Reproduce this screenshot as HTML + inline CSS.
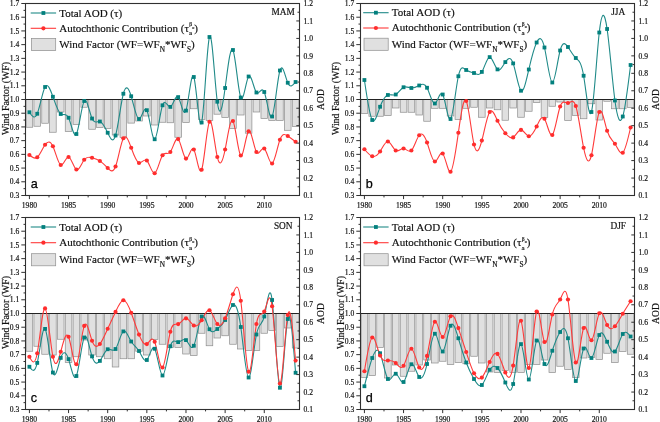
<!DOCTYPE html><html><head><meta charset="utf-8"><style>
html,body{margin:0;padding:0;background:#fff;}body{width:660px;height:422px;overflow:hidden;}
svg{display:block;will-change:transform;} .s{font-family:"Liberation Serif",serif;fill:#111111;stroke:#111111;stroke-width:0.18px;} .ss{font-family:"Liberation Sans",sans-serif;fill:#000;stroke:#000;stroke-width:0.25px;}
</style></head><body>
<svg width="660" height="422" viewBox="0 0 660 422">
<g fill="#e0e0e0" stroke="#8e8e8e" stroke-width="0.7"><rect x="26.11" y="99.5" width="6.6" height="27.75"/><rect x="33.94" y="99.5" width="6.6" height="26.75"/><rect x="41.77" y="99.5" width="6.6" height="23.75"/><rect x="49.6" y="99.5" width="6.6" height="32.75"/><rect x="57.43" y="99.5" width="6.6" height="12.5"/><rect x="65.26" y="99.5" width="6.6" height="32"/><rect x="73.09" y="99.5" width="6.6" height="25"/><rect x="80.91" y="99.5" width="6.6" height="7.75"/><rect x="88.74" y="99.5" width="6.6" height="29.75"/><rect x="96.57" y="99.5" width="6.6" height="28"/><rect x="104.4" y="99.5" width="6.6" height="28.9"/><rect x="112.23" y="99.5" width="6.6" height="35.5"/><rect x="120.06" y="99.5" width="6.6" height="38"/><rect x="127.89" y="99.5" width="6.6" height="23.6"/><rect x="135.71" y="99.5" width="6.6" height="21.5"/><rect x="143.54" y="99.5" width="6.6" height="16.5"/><rect x="151.37" y="99.5" width="6.6" height="25.5"/><rect x="159.2" y="99.5" width="6.6" height="22.75"/><rect x="167.03" y="99.5" width="6.6" height="23.25"/><rect x="174.86" y="99.5" width="6.6" height="37.75"/><rect x="182.69" y="99.5" width="6.6" height="23"/><rect x="190.51" y="99.5" width="6.6" height="9.25"/><rect x="198.34" y="99.5" width="6.6" height="20"/><rect x="206.17" y="99.5" width="6.6" height="21.1"/><rect x="214" y="99.5" width="6.6" height="14.7"/><rect x="221.83" y="99.5" width="6.6" height="18"/><rect x="229.66" y="99.5" width="6.6" height="29.1"/><rect x="237.49" y="99.5" width="6.6" height="15.5"/><rect x="245.31" y="99.5" width="6.6" height="33.7"/><rect x="253.14" y="99.5" width="6.6" height="12.5"/><rect x="260.97" y="99.5" width="6.6" height="19"/><rect x="268.8" y="99.5" width="6.6" height="21"/><rect x="276.63" y="99.5" width="6.6" height="21"/><rect x="284.46" y="99.5" width="6.6" height="30.8"/><rect x="292.29" y="99.5" width="6.6" height="27.1"/></g>
<line x1="25.5" y1="99.5" x2="299.5" y2="99.5" stroke="#222" stroke-width="1"/>
<path d="M29.41,112.25 C32.02,116.06 34.63,119.87 37.24,113.75 C39.85,107.63 42.46,91.57 45.07,87 C47.68,82.43 50.29,89.36 52.9,96.75 C55.51,104.14 58.12,112.01 60.73,114 C63.34,115.99 65.95,112.11 68.56,117.75 C71.17,123.39 73.78,138.54 76.39,134 C79,129.46 81.6,105.24 84.21,101 C86.82,96.76 89.43,112.49 92.04,118.5 C94.65,124.51 97.26,120.81 99.87,121.5 C102.48,122.19 105.09,127.26 107.7,132.75 C110.31,138.24 112.92,144.16 115.53,135.5 C118.14,126.84 120.75,103.59 123.36,93.75 C125.97,83.91 128.58,87.47 131.19,96.25 C133.8,105.03 136.4,119.01 139.01,119 C141.62,118.99 144.23,104.99 146.84,110.2 C149.45,115.41 152.06,139.85 154.67,139.25 C157.28,138.65 159.89,113.02 162.5,105.3 C165.11,97.58 167.72,107.78 170.33,106.9 C172.94,106.02 175.55,94.05 178.16,97.1 C180.77,100.15 183.38,118.23 185.99,110.6 C188.6,102.97 191.2,69.63 193.81,77 C196.42,84.37 199.03,132.45 201.64,122.5 C204.25,112.55 206.86,44.56 209.47,37 C212.08,29.44 214.69,82.31 217.3,101.75 C219.91,121.19 222.52,107.21 225.13,88 C227.74,68.79 230.35,44.35 232.96,50 C235.57,55.65 238.18,91.4 240.79,97.5 C243.4,103.6 246,80.07 248.61,76.5 C251.22,72.93 253.83,89.34 256.44,92.5 C259.05,95.66 261.66,85.59 264.27,92 C266.88,98.41 269.49,121.3 272.1,116.5 C274.71,111.7 277.32,79.21 279.93,70.5 C282.54,61.79 285.15,76.87 287.76,82.75 C290.37,88.63 292.98,85.32 295.59,82" fill="none" stroke="#1f8a88" stroke-width="1.1"/>
<path d="M29.41,155 C32.02,157.23 34.63,159.47 37.24,157.25 C39.85,155.03 42.46,148.37 45.07,144.75 C47.68,141.13 50.29,140.57 52.9,146.25 C55.51,151.93 58.12,163.85 60.73,165 C63.34,166.15 65.95,156.52 68.56,157 C71.17,157.48 73.78,168.06 76.39,169.5 C79,170.94 81.6,163.24 84.21,159.75 C86.82,156.26 89.43,156.99 92.04,157.75 C94.65,158.51 97.26,159.3 99.87,161 C102.48,162.7 105.09,165.32 107.7,168 C110.31,170.68 112.92,173.42 115.53,166.5 C118.14,159.58 120.75,143.01 123.36,138.25 C125.97,133.49 128.58,140.56 131.19,147.75 C133.8,154.94 136.4,162.26 139.01,163 C141.62,163.74 144.23,157.89 146.84,160.5 C149.45,163.11 152.06,174.17 154.67,173.25 C157.28,172.33 159.89,159.44 162.5,155.25 C165.11,151.06 167.72,155.57 170.33,152 C172.94,148.43 175.55,136.8 178.16,139.1 C180.77,141.4 183.38,157.65 185.99,158.6 C188.6,159.55 191.2,145.21 193.81,149.5 C196.42,153.79 199.03,176.7 201.64,169.75 C204.25,162.8 206.86,126 209.47,121.75 C212.08,117.5 214.69,145.79 217.3,157 C219.91,168.21 222.52,162.35 225.13,149.5 C227.74,136.65 230.35,116.83 232.96,121 C235.57,125.17 238.18,153.35 240.79,155.5 C243.4,157.65 246,133.77 248.61,131.25 C251.22,128.73 253.83,147.55 256.44,152 C259.05,156.45 261.66,146.51 264.27,148.5 C266.88,150.49 269.49,164.41 272.1,163.5 C274.71,162.59 277.32,146.84 279.93,139.75 C282.54,132.66 285.15,134.22 287.76,136 C290.37,137.78 292.98,139.76 295.59,141.75" fill="none" stroke="#ff3a3a" stroke-width="1.1"/>
<g fill="#03807e"><rect x="27.51" y="110.35" width="3.8" height="3.8"/><rect x="35.34" y="111.85" width="3.8" height="3.8"/><rect x="43.17" y="85.1" width="3.8" height="3.8"/><rect x="51" y="94.85" width="3.8" height="3.8"/><rect x="58.83" y="112.1" width="3.8" height="3.8"/><rect x="66.66" y="115.85" width="3.8" height="3.8"/><rect x="74.49" y="132.1" width="3.8" height="3.8"/><rect x="82.31" y="99.1" width="3.8" height="3.8"/><rect x="90.14" y="116.6" width="3.8" height="3.8"/><rect x="97.97" y="119.6" width="3.8" height="3.8"/><rect x="105.8" y="130.85" width="3.8" height="3.8"/><rect x="113.63" y="133.6" width="3.8" height="3.8"/><rect x="121.46" y="91.85" width="3.8" height="3.8"/><rect x="129.29" y="94.35" width="3.8" height="3.8"/><rect x="137.11" y="117.1" width="3.8" height="3.8"/><rect x="144.94" y="108.3" width="3.8" height="3.8"/><rect x="152.77" y="137.35" width="3.8" height="3.8"/><rect x="160.6" y="103.4" width="3.8" height="3.8"/><rect x="168.43" y="105" width="3.8" height="3.8"/><rect x="176.26" y="95.2" width="3.8" height="3.8"/><rect x="184.09" y="108.7" width="3.8" height="3.8"/><rect x="191.91" y="75.1" width="3.8" height="3.8"/><rect x="199.74" y="120.6" width="3.8" height="3.8"/><rect x="207.57" y="35.1" width="3.8" height="3.8"/><rect x="215.4" y="99.85" width="3.8" height="3.8"/><rect x="223.23" y="86.1" width="3.8" height="3.8"/><rect x="231.06" y="48.1" width="3.8" height="3.8"/><rect x="238.89" y="95.6" width="3.8" height="3.8"/><rect x="246.71" y="74.6" width="3.8" height="3.8"/><rect x="254.54" y="90.6" width="3.8" height="3.8"/><rect x="262.37" y="90.1" width="3.8" height="3.8"/><rect x="270.2" y="114.6" width="3.8" height="3.8"/><rect x="278.03" y="68.6" width="3.8" height="3.8"/><rect x="285.86" y="80.85" width="3.8" height="3.8"/><rect x="293.69" y="80.1" width="3.8" height="3.8"/></g>
<g fill="#ff2d2d"><circle cx="29.41" cy="155" r="2.1"/><circle cx="37.24" cy="157.25" r="2.1"/><circle cx="45.07" cy="144.75" r="2.1"/><circle cx="52.9" cy="146.25" r="2.1"/><circle cx="60.73" cy="165" r="2.1"/><circle cx="68.56" cy="157" r="2.1"/><circle cx="76.39" cy="169.5" r="2.1"/><circle cx="84.21" cy="159.75" r="2.1"/><circle cx="92.04" cy="157.75" r="2.1"/><circle cx="99.87" cy="161" r="2.1"/><circle cx="107.7" cy="168" r="2.1"/><circle cx="115.53" cy="166.5" r="2.1"/><circle cx="123.36" cy="138.25" r="2.1"/><circle cx="131.19" cy="147.75" r="2.1"/><circle cx="139.01" cy="163" r="2.1"/><circle cx="146.84" cy="160.5" r="2.1"/><circle cx="154.67" cy="173.25" r="2.1"/><circle cx="162.5" cy="155.25" r="2.1"/><circle cx="170.33" cy="152" r="2.1"/><circle cx="178.16" cy="139.1" r="2.1"/><circle cx="185.99" cy="158.6" r="2.1"/><circle cx="193.81" cy="149.5" r="2.1"/><circle cx="201.64" cy="169.75" r="2.1"/><circle cx="209.47" cy="121.75" r="2.1"/><circle cx="217.3" cy="157" r="2.1"/><circle cx="225.13" cy="149.5" r="2.1"/><circle cx="232.96" cy="121" r="2.1"/><circle cx="240.79" cy="155.5" r="2.1"/><circle cx="248.61" cy="131.25" r="2.1"/><circle cx="256.44" cy="152" r="2.1"/><circle cx="264.27" cy="148.5" r="2.1"/><circle cx="272.1" cy="163.5" r="2.1"/><circle cx="279.93" cy="139.75" r="2.1"/><circle cx="287.76" cy="136" r="2.1"/><circle cx="295.59" cy="141.75" r="2.1"/></g>
<rect x="25.5" y="3.5" width="274" height="192" fill="none" stroke="#303030" stroke-width="1.1"/>
<path d="M25.5,195.5H21.3M25.5,188.64H23.5M25.5,181.79H21.3M25.5,174.93H23.5M25.5,168.07H21.3M25.5,161.21H23.5M25.5,154.36H21.3M25.5,147.5H23.5M25.5,140.64H21.3M25.5,133.79H23.5M25.5,126.93H21.3M25.5,120.07H23.5M25.5,113.21H21.3M25.5,106.36H23.5M25.5,99.5H21.3M25.5,92.64H23.5M25.5,85.79H21.3M25.5,78.93H23.5M25.5,72.07H21.3M25.5,65.21H23.5M25.5,58.36H21.3M25.5,51.5H23.5M25.5,44.64H21.3M25.5,37.79H23.5M25.5,30.93H21.3M25.5,24.07H23.5M25.5,17.21H21.3M25.5,10.36H23.5M25.5,3.5H21.3M299.5,195.5H296.3M299.5,186.77H297.5M299.5,178.05H296.3M299.5,169.32H297.5M299.5,160.59H296.3M299.5,151.86H297.5M299.5,143.14H296.3M299.5,134.41H297.5M299.5,125.68H296.3M299.5,116.95H297.5M299.5,108.23H296.3M299.5,99.5H297.5M299.5,90.77H296.3M299.5,82.05H297.5M299.5,73.32H296.3M299.5,64.59H297.5M299.5,55.86H296.3M299.5,47.14H297.5M299.5,38.41H296.3M299.5,29.68H297.5M299.5,20.95H296.3M299.5,12.23H297.5M299.5,3.5H296.3M29.41,195.5V199.1M48.99,195.5V197.4M68.56,195.5V199.1M88.13,195.5V197.4M107.7,195.5V199.1M127.27,195.5V197.4M146.84,195.5V199.1M166.41,195.5V197.4M185.99,195.5V199.1M205.56,195.5V197.4M225.13,195.5V199.1M244.7,195.5V197.4M264.27,195.5V199.1" stroke="#303030" stroke-width="1" fill="none"/>
<g class="s" font-size="7.6"><text x="19.3" y="198.2" text-anchor="end">0.3</text><text x="19.3" y="184.49" text-anchor="end">0.4</text><text x="19.3" y="170.77" text-anchor="end">0.5</text><text x="19.3" y="157.06" text-anchor="end">0.6</text><text x="19.3" y="143.34" text-anchor="end">0.7</text><text x="19.3" y="129.63" text-anchor="end">0.8</text><text x="19.3" y="115.91" text-anchor="end">0.9</text><text x="19.3" y="102.2" text-anchor="end">1.0</text><text x="19.3" y="88.49" text-anchor="end">1.1</text><text x="19.3" y="74.77" text-anchor="end">1.2</text><text x="19.3" y="61.06" text-anchor="end">1.3</text><text x="19.3" y="47.34" text-anchor="end">1.4</text><text x="19.3" y="33.63" text-anchor="end">1.5</text><text x="19.3" y="19.91" text-anchor="end">1.6</text><text x="19.3" y="6.2" text-anchor="end">1.7</text><text x="303.5" y="198.2">0.1</text><text x="303.5" y="180.75">0.2</text><text x="303.5" y="163.29">0.3</text><text x="303.5" y="145.84">0.4</text><text x="303.5" y="128.38">0.5</text><text x="303.5" y="110.93">0.6</text><text x="303.5" y="93.47">0.7</text><text x="303.5" y="76.02">0.8</text><text x="303.5" y="58.56">0.9</text><text x="303.5" y="41.11">1.0</text><text x="303.5" y="23.65">1.1</text><text x="303.5" y="6.2">1.2</text><text x="29.41" y="207.8" text-anchor="middle">1980</text><text x="68.56" y="207.8" text-anchor="middle">1985</text><text x="107.7" y="207.8" text-anchor="middle">1990</text><text x="146.84" y="207.8" text-anchor="middle">1995</text><text x="185.99" y="207.8" text-anchor="middle">2000</text><text x="225.13" y="207.8" text-anchor="middle">2005</text><text x="264.27" y="207.8" text-anchor="middle">2010</text></g>
<text class="s" font-size="9.9" transform="translate(9.3,98.5) rotate(-90)" text-anchor="middle">Wind Factor (WF)</text>
<text class="s" font-size="9.6" transform="translate(324.1,99.5) rotate(-90)" text-anchor="middle">AOD</text>
<text class="s" font-size="9.3" x="283.2" y="14.8" text-anchor="middle">MAM</text>
<text class="ss" font-size="12.6" x="30.8" y="187.9">a</text>
<line x1="30.7" y1="13" x2="56.1" y2="13" stroke="#1f8a88" stroke-width="1.1"/>
<rect x="41.5" y="11.1" width="3.8" height="3.8" fill="#03807e"/>
<line x1="30.7" y1="28.3" x2="56.1" y2="28.3" stroke="#ff3a3a" stroke-width="1.1"/>
<circle cx="43.4" cy="28.3" r="2.1" fill="#ff2d2d"/>
<rect x="31.5" y="38.5" width="24.2" height="12.1" fill="#e0e0e0" stroke="#8e8e8e" stroke-width="0.7"/>
<text class="s" font-size="11.0" x="59.2" y="16.6">Total AOD (&#964;)</text>
<text class="s" font-size="11.0" x="59.2" y="31.7">Autochthonic Contribution (&#964;<tspan font-size="7" dy="3.7">a</tspan><tspan font-size="5.6" dx="-2.7" dy="-9.3">&#946;</tspan><tspan font-size="4.2" dy="2.4">o</tspan><tspan dy="3.2">)</tspan></text>
<text class="s" font-size="11.0" x="59.2" y="48.1">Wind Factor (WF=WF<tspan font-size="7.3" dy="4">N</tspan><tspan dy="-4">*WF</tspan><tspan font-size="7.3" dy="4">S</tspan><tspan dy="-4">)</tspan></text>
<g fill="#e0e0e0" stroke="#8e8e8e" stroke-width="0.7"><rect x="361.11" y="99.5" width="6.6" height="14"/><rect x="368.94" y="99.5" width="6.6" height="16.75"/><rect x="376.77" y="99.5" width="6.6" height="16.75"/><rect x="384.6" y="99.5" width="6.6" height="16.1"/><rect x="392.43" y="99.5" width="6.6" height="8.5"/><rect x="400.26" y="99.5" width="6.6" height="12.75"/><rect x="408.09" y="99.5" width="6.6" height="12.75"/><rect x="415.91" y="99.5" width="6.6" height="15.5"/><rect x="423.74" y="99.5" width="6.6" height="21.75"/><rect x="431.57" y="99.5" width="6.6" height="8.8"/><rect x="439.4" y="99.5" width="6.6" height="8.8"/><rect x="447.23" y="99.5" width="6.6" height="16.5"/><rect x="455.06" y="99.5" width="6.6" height="20"/><rect x="462.89" y="99.5" width="6.6" height="8.8"/><rect x="470.71" y="99.5" width="6.6" height="7.75"/><rect x="478.54" y="99.5" width="6.6" height="17.75"/><rect x="486.37" y="99.5" width="6.6" height="8.5"/><rect x="494.2" y="99.5" width="6.6" height="10.25"/><rect x="502.03" y="99.5" width="6.6" height="20.75"/><rect x="509.86" y="99.5" width="6.6" height="8.5"/><rect x="517.69" y="99.5" width="6.6" height="17.75"/><rect x="525.51" y="99.5" width="6.6" height="11.75"/><rect x="533.34" y="99.5" width="6.6" height="3"/><rect x="541.17" y="99.5" width="6.6" height="18"/><rect x="549" y="99.5" width="6.6" height="6.75"/><rect x="556.83" y="99.5" width="6.6" height="2.5"/><rect x="564.66" y="99.5" width="6.6" height="21"/><rect x="572.49" y="99.5" width="6.6" height="16"/><rect x="580.31" y="99.5" width="6.6" height="19.25"/><rect x="588.14" y="99.5" width="6.6" height="4.25"/><rect x="595.97" y="99.5" width="6.6" height="20.5"/><rect x="603.8" y="99.5" width="6.6" height="1.75"/><rect x="611.63" y="99.5" width="6.6" height="9.25"/><rect x="619.46" y="99.5" width="6.6" height="9.25"/><rect x="627.29" y="99.5" width="6.6" height="8"/></g>
<line x1="360.5" y1="99.5" x2="634.5" y2="99.5" stroke="#222" stroke-width="1"/>
<path d="M364.41,80 C367.02,98.04 369.63,116.08 372.24,120 C374.85,123.92 377.46,113.74 380.07,106.75 C382.68,99.76 385.29,95.98 387.9,95 C390.51,94.02 393.12,95.86 395.73,94.5 C398.34,93.14 400.95,88.6 403.56,87.25 C406.17,85.9 408.78,87.76 411.39,88 C414,88.24 416.6,86.88 419.21,85.5 C421.82,84.12 424.43,82.71 427.04,87.75 C429.65,92.79 432.26,104.26 434.87,103.5 C437.48,102.74 440.09,89.75 442.7,94.5 C445.31,99.25 447.92,121.74 450.53,119 C453.14,116.26 455.75,88.3 458.36,76.25 C460.97,64.2 463.58,68.06 466.19,70 C468.8,71.94 471.4,71.96 474.01,73 C476.62,74.04 479.23,76.1 481.84,71.9 C484.45,67.7 487.06,57.24 489.67,57.1 C492.28,56.96 494.89,67.13 497.5,69.4 C500.11,71.67 502.72,66.05 505.33,62.1 C507.94,58.15 510.55,55.87 513.16,63.4 C515.77,70.93 518.38,88.28 520.99,90.75 C523.6,93.22 526.2,80.81 528.81,69.5 C531.42,58.19 534.03,47.99 536.64,42.5 C539.25,37.01 541.86,36.23 544.47,47.5 C547.08,58.77 549.69,82.09 552.3,82.5 C554.91,82.91 557.52,60.41 560.13,50.5 C562.74,40.59 565.35,43.27 567.96,47 C570.57,50.73 573.18,55.52 575.79,58 C578.4,60.48 581,60.66 583.61,75.75 C586.22,90.84 588.83,120.83 591.44,112 C594.05,103.17 596.66,55.51 599.27,32.5 C601.88,9.49 604.49,11.12 607.1,29 C609.71,46.88 612.32,81.01 614.93,100.5 C617.54,119.99 620.15,124.86 622.76,116.5 C625.37,108.14 627.98,86.57 630.59,65" fill="none" stroke="#1f8a88" stroke-width="1.1"/>
<path d="M364.41,149.25 C367.02,152.36 369.63,155.47 372.24,156.25 C374.85,157.03 377.46,155.47 380.07,151.5 C382.68,147.53 385.29,141.16 387.9,141.5 C390.51,141.84 393.12,148.9 395.73,150.5 C398.34,152.1 400.95,148.26 403.56,148.5 C406.17,148.74 408.78,153.08 411.39,150.5 C414,147.92 416.6,138.43 419.21,135.25 C421.82,132.07 424.43,135.2 427.04,142.5 C429.65,149.8 432.26,161.28 434.87,161.5 C437.48,161.72 440.09,150.68 442.7,153.5 C445.31,156.32 447.92,173 450.53,171.75 C453.14,170.5 455.75,151.32 458.36,132.75 C460.97,114.18 463.58,96.22 466.19,101 C468.8,105.78 471.4,133.3 474.01,144.5 C476.62,155.7 479.23,150.56 481.84,140.6 C484.45,130.64 487.06,115.84 489.67,112 C492.28,108.16 494.89,115.28 497.5,120.75 C500.11,126.22 502.72,130.05 505.33,133.25 C507.94,136.45 510.55,139.04 513.16,137.4 C515.77,135.76 518.38,129.91 520.99,129.9 C523.6,129.89 526.2,135.72 528.81,136.25 C531.42,136.78 534.03,132.02 536.64,126.5 C539.25,120.98 541.86,114.68 544.47,118.75 C547.08,122.82 549.69,137.24 552.3,135 C554.91,132.76 557.52,113.87 560.13,106.5 C562.74,99.13 565.35,103.28 567.96,103 C570.57,102.72 573.18,98 575.79,106 C578.4,114 581,134.73 583.61,147.75 C586.22,160.77 588.83,166.07 591.44,155.25 C594.05,144.43 596.66,117.5 599.27,112 C601.88,106.5 604.49,122.43 607.1,130.75 C609.71,139.07 612.32,139.79 614.93,143.75 C617.54,147.71 620.15,154.92 622.76,152.75 C625.37,150.58 627.98,139.04 630.59,127.5" fill="none" stroke="#ff3a3a" stroke-width="1.1"/>
<g fill="#03807e"><rect x="362.51" y="78.1" width="3.8" height="3.8"/><rect x="370.34" y="118.1" width="3.8" height="3.8"/><rect x="378.17" y="104.85" width="3.8" height="3.8"/><rect x="386" y="93.1" width="3.8" height="3.8"/><rect x="393.83" y="92.6" width="3.8" height="3.8"/><rect x="401.66" y="85.35" width="3.8" height="3.8"/><rect x="409.49" y="86.1" width="3.8" height="3.8"/><rect x="417.31" y="83.6" width="3.8" height="3.8"/><rect x="425.14" y="85.85" width="3.8" height="3.8"/><rect x="432.97" y="101.6" width="3.8" height="3.8"/><rect x="440.8" y="92.6" width="3.8" height="3.8"/><rect x="448.63" y="117.1" width="3.8" height="3.8"/><rect x="456.46" y="74.35" width="3.8" height="3.8"/><rect x="464.29" y="68.1" width="3.8" height="3.8"/><rect x="472.11" y="71.1" width="3.8" height="3.8"/><rect x="479.94" y="70" width="3.8" height="3.8"/><rect x="487.77" y="55.2" width="3.8" height="3.8"/><rect x="495.6" y="67.5" width="3.8" height="3.8"/><rect x="503.43" y="60.2" width="3.8" height="3.8"/><rect x="511.26" y="61.5" width="3.8" height="3.8"/><rect x="519.09" y="88.85" width="3.8" height="3.8"/><rect x="526.91" y="67.6" width="3.8" height="3.8"/><rect x="534.74" y="40.6" width="3.8" height="3.8"/><rect x="542.57" y="45.6" width="3.8" height="3.8"/><rect x="550.4" y="80.6" width="3.8" height="3.8"/><rect x="558.23" y="48.6" width="3.8" height="3.8"/><rect x="566.06" y="45.1" width="3.8" height="3.8"/><rect x="573.89" y="56.1" width="3.8" height="3.8"/><rect x="581.71" y="73.85" width="3.8" height="3.8"/><rect x="589.54" y="110.1" width="3.8" height="3.8"/><rect x="597.37" y="30.6" width="3.8" height="3.8"/><rect x="605.2" y="27.1" width="3.8" height="3.8"/><rect x="613.03" y="98.6" width="3.8" height="3.8"/><rect x="620.86" y="114.6" width="3.8" height="3.8"/><rect x="628.69" y="63.1" width="3.8" height="3.8"/></g>
<g fill="#ff2d2d"><circle cx="364.41" cy="149.25" r="2.1"/><circle cx="372.24" cy="156.25" r="2.1"/><circle cx="380.07" cy="151.5" r="2.1"/><circle cx="387.9" cy="141.5" r="2.1"/><circle cx="395.73" cy="150.5" r="2.1"/><circle cx="403.56" cy="148.5" r="2.1"/><circle cx="411.39" cy="150.5" r="2.1"/><circle cx="419.21" cy="135.25" r="2.1"/><circle cx="427.04" cy="142.5" r="2.1"/><circle cx="434.87" cy="161.5" r="2.1"/><circle cx="442.7" cy="153.5" r="2.1"/><circle cx="450.53" cy="171.75" r="2.1"/><circle cx="458.36" cy="132.75" r="2.1"/><circle cx="466.19" cy="101" r="2.1"/><circle cx="474.01" cy="144.5" r="2.1"/><circle cx="481.84" cy="140.6" r="2.1"/><circle cx="489.67" cy="112" r="2.1"/><circle cx="497.5" cy="120.75" r="2.1"/><circle cx="505.33" cy="133.25" r="2.1"/><circle cx="513.16" cy="137.4" r="2.1"/><circle cx="520.99" cy="129.9" r="2.1"/><circle cx="528.81" cy="136.25" r="2.1"/><circle cx="536.64" cy="126.5" r="2.1"/><circle cx="544.47" cy="118.75" r="2.1"/><circle cx="552.3" cy="135" r="2.1"/><circle cx="560.13" cy="106.5" r="2.1"/><circle cx="567.96" cy="103" r="2.1"/><circle cx="575.79" cy="106" r="2.1"/><circle cx="583.61" cy="147.75" r="2.1"/><circle cx="591.44" cy="155.25" r="2.1"/><circle cx="599.27" cy="112" r="2.1"/><circle cx="607.1" cy="130.75" r="2.1"/><circle cx="614.93" cy="143.75" r="2.1"/><circle cx="622.76" cy="152.75" r="2.1"/><circle cx="630.59" cy="127.5" r="2.1"/></g>
<rect x="360.5" y="3.5" width="274" height="192" fill="none" stroke="#303030" stroke-width="1.1"/>
<path d="M360.5,195.5H356.3M360.5,188.64H358.5M360.5,181.79H356.3M360.5,174.93H358.5M360.5,168.07H356.3M360.5,161.21H358.5M360.5,154.36H356.3M360.5,147.5H358.5M360.5,140.64H356.3M360.5,133.79H358.5M360.5,126.93H356.3M360.5,120.07H358.5M360.5,113.21H356.3M360.5,106.36H358.5M360.5,99.5H356.3M360.5,92.64H358.5M360.5,85.79H356.3M360.5,78.93H358.5M360.5,72.07H356.3M360.5,65.21H358.5M360.5,58.36H356.3M360.5,51.5H358.5M360.5,44.64H356.3M360.5,37.79H358.5M360.5,30.93H356.3M360.5,24.07H358.5M360.5,17.21H356.3M360.5,10.36H358.5M360.5,3.5H356.3M634.5,195.5H631.3M634.5,186.77H632.5M634.5,178.05H631.3M634.5,169.32H632.5M634.5,160.59H631.3M634.5,151.86H632.5M634.5,143.14H631.3M634.5,134.41H632.5M634.5,125.68H631.3M634.5,116.95H632.5M634.5,108.23H631.3M634.5,99.5H632.5M634.5,90.77H631.3M634.5,82.05H632.5M634.5,73.32H631.3M634.5,64.59H632.5M634.5,55.86H631.3M634.5,47.14H632.5M634.5,38.41H631.3M634.5,29.68H632.5M634.5,20.95H631.3M634.5,12.23H632.5M634.5,3.5H631.3M364.41,195.5V199.1M383.99,195.5V197.4M403.56,195.5V199.1M423.13,195.5V197.4M442.7,195.5V199.1M462.27,195.5V197.4M481.84,195.5V199.1M501.41,195.5V197.4M520.99,195.5V199.1M540.56,195.5V197.4M560.13,195.5V199.1M579.7,195.5V197.4M599.27,195.5V199.1" stroke="#303030" stroke-width="1" fill="none"/>
<g class="s" font-size="7.6"><text x="354.3" y="198.2" text-anchor="end">0.3</text><text x="354.3" y="184.49" text-anchor="end">0.4</text><text x="354.3" y="170.77" text-anchor="end">0.5</text><text x="354.3" y="157.06" text-anchor="end">0.6</text><text x="354.3" y="143.34" text-anchor="end">0.7</text><text x="354.3" y="129.63" text-anchor="end">0.8</text><text x="354.3" y="115.91" text-anchor="end">0.9</text><text x="354.3" y="102.2" text-anchor="end">1.0</text><text x="354.3" y="88.49" text-anchor="end">1.1</text><text x="354.3" y="74.77" text-anchor="end">1.2</text><text x="354.3" y="61.06" text-anchor="end">1.3</text><text x="354.3" y="47.34" text-anchor="end">1.4</text><text x="354.3" y="33.63" text-anchor="end">1.5</text><text x="354.3" y="19.91" text-anchor="end">1.6</text><text x="354.3" y="6.2" text-anchor="end">1.7</text><text x="638.5" y="198.2">0.1</text><text x="638.5" y="180.75">0.2</text><text x="638.5" y="163.29">0.3</text><text x="638.5" y="145.84">0.4</text><text x="638.5" y="128.38">0.5</text><text x="638.5" y="110.93">0.6</text><text x="638.5" y="93.47">0.7</text><text x="638.5" y="76.02">0.8</text><text x="638.5" y="58.56">0.9</text><text x="638.5" y="41.11">1.0</text><text x="638.5" y="23.65">1.1</text><text x="638.5" y="6.2">1.2</text><text x="364.41" y="207.8" text-anchor="middle">1980</text><text x="403.56" y="207.8" text-anchor="middle">1985</text><text x="442.7" y="207.8" text-anchor="middle">1990</text><text x="481.84" y="207.8" text-anchor="middle">1995</text><text x="520.99" y="207.8" text-anchor="middle">2000</text><text x="560.13" y="207.8" text-anchor="middle">2005</text><text x="599.27" y="207.8" text-anchor="middle">2010</text></g>
<text class="s" font-size="9.9" transform="translate(339.1,98.5) rotate(-90)" text-anchor="middle">Wind Factor (WF)</text>
<text class="s" font-size="9.6" transform="translate(659.1,99.5) rotate(-90)" text-anchor="middle">AOD</text>
<text class="s" font-size="9.3" x="618.2" y="14.8" text-anchor="middle">JJA</text>
<text class="ss" font-size="12.6" x="365.8" y="187.9">b</text>
<line x1="363.2" y1="12.7" x2="388.6" y2="12.7" stroke="#1f8a88" stroke-width="1.1"/>
<rect x="374" y="10.8" width="3.8" height="3.8" fill="#03807e"/>
<line x1="363.2" y1="28" x2="388.6" y2="28" stroke="#ff3a3a" stroke-width="1.1"/>
<circle cx="375.9" cy="28" r="2.1" fill="#ff2d2d"/>
<rect x="364" y="38.2" width="24.2" height="12.1" fill="#e0e0e0" stroke="#8e8e8e" stroke-width="0.7"/>
<text class="s" font-size="11.0" x="391.7" y="16.3">Total AOD (&#964;)</text>
<text class="s" font-size="11.0" x="391.7" y="31.4">Autochthonic Contribution (&#964;<tspan font-size="7" dy="3.7">a</tspan><tspan font-size="5.6" dx="-2.7" dy="-9.3">&#946;</tspan><tspan font-size="4.2" dy="2.4">o</tspan><tspan dy="3.2">)</tspan></text>
<text class="s" font-size="11.0" x="391.7" y="47.8">Wind Factor (WF=WF<tspan font-size="7.3" dy="4">N</tspan><tspan dy="-4">*WF</tspan><tspan font-size="7.3" dy="4">S</tspan><tspan dy="-4">)</tspan></text>
<g fill="#e0e0e0" stroke="#8e8e8e" stroke-width="0.7"><rect x="26.11" y="313.5" width="6.6" height="37.75"/><rect x="33.94" y="313.5" width="6.6" height="32.75"/><rect x="41.77" y="313.5" width="6.6" height="40.75"/><rect x="49.6" y="313.5" width="6.6" height="41.5"/><rect x="57.43" y="313.5" width="6.6" height="25.75"/><rect x="65.26" y="313.5" width="6.6" height="49"/><rect x="73.09" y="313.5" width="6.6" height="43.25"/><rect x="80.91" y="313.5" width="6.6" height="26.5"/><rect x="88.74" y="313.5" width="6.6" height="41.5"/><rect x="96.57" y="313.5" width="6.6" height="43.25"/><rect x="104.4" y="313.5" width="6.6" height="45.25"/><rect x="112.23" y="313.5" width="6.6" height="53.5"/><rect x="120.06" y="313.5" width="6.6" height="45.25"/><rect x="127.89" y="313.5" width="6.6" height="45.25"/><rect x="135.71" y="313.5" width="6.6" height="37.75"/><rect x="143.54" y="313.5" width="6.6" height="41.5"/><rect x="151.37" y="313.5" width="6.6" height="25.9"/><rect x="159.2" y="313.5" width="6.6" height="30.75"/><rect x="167.03" y="313.5" width="6.6" height="34"/><rect x="174.86" y="313.5" width="6.6" height="34"/><rect x="182.69" y="313.5" width="6.6" height="40.5"/><rect x="190.51" y="313.5" width="6.6" height="42"/><rect x="198.34" y="313.5" width="6.6" height="19.75"/><rect x="206.17" y="313.5" width="6.6" height="32.25"/><rect x="214" y="313.5" width="6.6" height="24.5"/><rect x="221.83" y="313.5" width="6.6" height="22.25"/><rect x="229.66" y="313.5" width="6.6" height="30.75"/><rect x="237.49" y="313.5" width="6.6" height="35.5"/><rect x="245.31" y="313.5" width="6.6" height="37"/><rect x="253.14" y="313.5" width="6.6" height="37"/><rect x="260.97" y="313.5" width="6.6" height="19.75"/><rect x="268.8" y="313.5" width="6.6" height="17"/><rect x="276.63" y="313.5" width="6.6" height="33"/><rect x="284.46" y="313.5" width="6.6" height="14.5"/><rect x="292.29" y="313.5" width="6.6" height="34.5"/></g>
<line x1="25.5" y1="313.5" x2="299.5" y2="313.5" stroke="#222" stroke-width="1"/>
<path d="M29.41,366.75 C32.02,370.4 34.63,374.05 37.24,362.9 C39.85,351.75 42.46,325.79 45.07,328.9 C47.68,332.01 50.29,364.18 52.9,372.5 C55.51,380.82 58.12,365.3 60.73,357.9 C63.34,350.5 65.95,351.22 68.56,359.1 C71.17,366.98 73.78,382.02 76.39,376 C79,369.98 81.6,342.92 84.21,337.5 C86.82,332.08 89.43,348.32 92.04,356.4 C94.65,364.48 97.26,364.41 99.87,360.9 C102.48,357.39 105.09,350.43 107.7,349.25 C110.31,348.07 112.92,352.65 115.53,349 C118.14,345.35 120.75,333.45 123.36,331.4 C125.97,329.35 128.58,337.14 131.19,341.5 C133.8,345.86 136.4,346.78 139.01,351 C141.62,355.22 144.23,362.73 146.84,360 C149.45,357.27 152.06,344.28 154.67,348.75 C157.28,353.22 159.89,375.13 162.5,375.5 C165.11,375.87 167.72,354.69 170.33,346.25 C172.94,337.81 175.55,342.1 178.16,342.1 C180.77,342.1 183.38,337.81 185.99,340.1 C188.6,342.39 191.2,351.24 193.81,345.75 C196.42,340.26 199.03,320.42 201.64,316.5 C204.25,312.58 206.86,324.59 209.47,329.25 C212.08,333.91 214.69,331.21 217.3,329 C219.91,326.79 222.52,325.05 225.13,320 C227.74,314.95 230.35,306.59 232.96,305 C235.57,303.41 238.18,308.6 240.79,327 C243.4,345.4 246,377.03 248.61,377.5 C251.22,377.97 253.83,347.28 256.44,334.5 C259.05,321.72 261.66,326.84 264.27,316.5 C266.88,306.16 269.49,280.37 272.1,300 C274.71,319.63 277.32,384.7 279.93,387.75 C282.54,390.8 285.15,331.84 287.76,319 C290.37,306.16 292.98,339.46 295.59,372.75" fill="none" stroke="#1f8a88" stroke-width="1.1"/>
<path d="M29.41,356.75 C32.02,361.8 34.63,366.85 37.24,353.25 C39.85,339.65 42.46,307.38 45.07,308.4 C47.68,309.42 50.29,343.71 52.9,356.75 C55.51,369.79 58.12,361.56 60.73,351.75 C63.34,341.94 65.95,330.55 68.56,336.75 C71.17,342.95 73.78,366.76 76.39,364.25 C79,361.74 81.6,332.93 84.21,325.9 C86.82,318.87 89.43,333.63 92.04,340.75 C94.65,347.87 97.26,347.33 99.87,344 C102.48,340.67 105.09,334.53 107.7,328.75 C110.31,322.97 112.92,317.55 115.53,311.9 C118.14,306.25 120.75,300.38 123.36,300.25 C125.97,300.12 128.58,305.74 131.19,312.75 C133.8,319.76 136.4,328.14 139.01,334.6 C141.62,341.06 144.23,345.58 146.84,344.1 C149.45,342.62 152.06,335.13 154.67,341.75 C157.28,348.37 159.89,369.09 162.5,367.5 C165.11,365.91 167.72,341.99 170.33,331.75 C172.94,321.51 175.55,324.94 178.16,324.1 C180.77,323.26 183.38,318.13 185.99,318.3 C188.6,318.47 191.2,323.92 193.81,325.5 C196.42,327.08 199.03,324.77 201.64,320.25 C204.25,315.73 206.86,309 209.47,310.25 C212.08,311.5 214.69,320.74 217.3,324 C219.91,327.26 222.52,324.54 225.13,318.25 C227.74,311.96 230.35,302.11 232.96,294.25 C235.57,286.39 238.18,280.52 240.79,300.75 C243.4,320.98 246,367.3 248.61,371.75 C251.22,376.2 253.83,338.79 256.44,324 C259.05,309.21 261.66,317.04 264.27,311.5 C266.88,305.96 269.49,287.04 272.1,306.25 C274.71,325.46 277.32,382.8 279.93,383.5 C282.54,384.2 285.15,328.26 287.76,315 C290.37,301.74 292.98,331.17 295.59,360.6" fill="none" stroke="#ff3a3a" stroke-width="1.1"/>
<g fill="#03807e"><rect x="27.51" y="364.85" width="3.8" height="3.8"/><rect x="35.34" y="361" width="3.8" height="3.8"/><rect x="43.17" y="327" width="3.8" height="3.8"/><rect x="51" y="370.6" width="3.8" height="3.8"/><rect x="58.83" y="356" width="3.8" height="3.8"/><rect x="66.66" y="357.2" width="3.8" height="3.8"/><rect x="74.49" y="374.1" width="3.8" height="3.8"/><rect x="82.31" y="335.6" width="3.8" height="3.8"/><rect x="90.14" y="354.5" width="3.8" height="3.8"/><rect x="97.97" y="359" width="3.8" height="3.8"/><rect x="105.8" y="347.35" width="3.8" height="3.8"/><rect x="113.63" y="347.1" width="3.8" height="3.8"/><rect x="121.46" y="329.5" width="3.8" height="3.8"/><rect x="129.29" y="339.6" width="3.8" height="3.8"/><rect x="137.11" y="349.1" width="3.8" height="3.8"/><rect x="144.94" y="358.1" width="3.8" height="3.8"/><rect x="152.77" y="346.85" width="3.8" height="3.8"/><rect x="160.6" y="373.6" width="3.8" height="3.8"/><rect x="168.43" y="344.35" width="3.8" height="3.8"/><rect x="176.26" y="340.2" width="3.8" height="3.8"/><rect x="184.09" y="338.2" width="3.8" height="3.8"/><rect x="191.91" y="343.85" width="3.8" height="3.8"/><rect x="199.74" y="314.6" width="3.8" height="3.8"/><rect x="207.57" y="327.35" width="3.8" height="3.8"/><rect x="215.4" y="327.1" width="3.8" height="3.8"/><rect x="223.23" y="318.1" width="3.8" height="3.8"/><rect x="231.06" y="303.1" width="3.8" height="3.8"/><rect x="238.89" y="325.1" width="3.8" height="3.8"/><rect x="246.71" y="375.6" width="3.8" height="3.8"/><rect x="254.54" y="332.6" width="3.8" height="3.8"/><rect x="262.37" y="314.6" width="3.8" height="3.8"/><rect x="270.2" y="298.1" width="3.8" height="3.8"/><rect x="278.03" y="385.85" width="3.8" height="3.8"/><rect x="285.86" y="317.1" width="3.8" height="3.8"/><rect x="293.69" y="370.85" width="3.8" height="3.8"/></g>
<g fill="#ff2d2d"><circle cx="29.41" cy="356.75" r="2.1"/><circle cx="37.24" cy="353.25" r="2.1"/><circle cx="45.07" cy="308.4" r="2.1"/><circle cx="52.9" cy="356.75" r="2.1"/><circle cx="60.73" cy="351.75" r="2.1"/><circle cx="68.56" cy="336.75" r="2.1"/><circle cx="76.39" cy="364.25" r="2.1"/><circle cx="84.21" cy="325.9" r="2.1"/><circle cx="92.04" cy="340.75" r="2.1"/><circle cx="99.87" cy="344" r="2.1"/><circle cx="107.7" cy="328.75" r="2.1"/><circle cx="115.53" cy="311.9" r="2.1"/><circle cx="123.36" cy="300.25" r="2.1"/><circle cx="131.19" cy="312.75" r="2.1"/><circle cx="139.01" cy="334.6" r="2.1"/><circle cx="146.84" cy="344.1" r="2.1"/><circle cx="154.67" cy="341.75" r="2.1"/><circle cx="162.5" cy="367.5" r="2.1"/><circle cx="170.33" cy="331.75" r="2.1"/><circle cx="178.16" cy="324.1" r="2.1"/><circle cx="185.99" cy="318.3" r="2.1"/><circle cx="193.81" cy="325.5" r="2.1"/><circle cx="201.64" cy="320.25" r="2.1"/><circle cx="209.47" cy="310.25" r="2.1"/><circle cx="217.3" cy="324" r="2.1"/><circle cx="225.13" cy="318.25" r="2.1"/><circle cx="232.96" cy="294.25" r="2.1"/><circle cx="240.79" cy="300.75" r="2.1"/><circle cx="248.61" cy="371.75" r="2.1"/><circle cx="256.44" cy="324" r="2.1"/><circle cx="264.27" cy="311.5" r="2.1"/><circle cx="272.1" cy="306.25" r="2.1"/><circle cx="279.93" cy="383.5" r="2.1"/><circle cx="287.76" cy="315" r="2.1"/><circle cx="295.59" cy="360.6" r="2.1"/></g>
<rect x="25.5" y="217.5" width="274" height="192" fill="none" stroke="#303030" stroke-width="1.1"/>
<path d="M25.5,409.5H21.3M25.5,402.64H23.5M25.5,395.79H21.3M25.5,388.93H23.5M25.5,382.07H21.3M25.5,375.21H23.5M25.5,368.36H21.3M25.5,361.5H23.5M25.5,354.64H21.3M25.5,347.79H23.5M25.5,340.93H21.3M25.5,334.07H23.5M25.5,327.21H21.3M25.5,320.36H23.5M25.5,313.5H21.3M25.5,306.64H23.5M25.5,299.79H21.3M25.5,292.93H23.5M25.5,286.07H21.3M25.5,279.21H23.5M25.5,272.36H21.3M25.5,265.5H23.5M25.5,258.64H21.3M25.5,251.79H23.5M25.5,244.93H21.3M25.5,238.07H23.5M25.5,231.21H21.3M25.5,224.36H23.5M25.5,217.5H21.3M299.5,409.5H296.3M299.5,400.77H297.5M299.5,392.05H296.3M299.5,383.32H297.5M299.5,374.59H296.3M299.5,365.86H297.5M299.5,357.14H296.3M299.5,348.41H297.5M299.5,339.68H296.3M299.5,330.95H297.5M299.5,322.23H296.3M299.5,313.5H297.5M299.5,304.77H296.3M299.5,296.05H297.5M299.5,287.32H296.3M299.5,278.59H297.5M299.5,269.86H296.3M299.5,261.14H297.5M299.5,252.41H296.3M299.5,243.68H297.5M299.5,234.95H296.3M299.5,226.23H297.5M299.5,217.5H296.3M29.41,409.5V413.1M48.99,409.5V411.4M68.56,409.5V413.1M88.13,409.5V411.4M107.7,409.5V413.1M127.27,409.5V411.4M146.84,409.5V413.1M166.41,409.5V411.4M185.99,409.5V413.1M205.56,409.5V411.4M225.13,409.5V413.1M244.7,409.5V411.4M264.27,409.5V413.1" stroke="#303030" stroke-width="1" fill="none"/>
<g class="s" font-size="7.6"><text x="19.3" y="412.2" text-anchor="end">0.3</text><text x="19.3" y="398.49" text-anchor="end">0.4</text><text x="19.3" y="384.77" text-anchor="end">0.5</text><text x="19.3" y="371.06" text-anchor="end">0.6</text><text x="19.3" y="357.34" text-anchor="end">0.7</text><text x="19.3" y="343.63" text-anchor="end">0.8</text><text x="19.3" y="329.91" text-anchor="end">0.9</text><text x="19.3" y="316.2" text-anchor="end">1.0</text><text x="19.3" y="302.49" text-anchor="end">1.1</text><text x="19.3" y="288.77" text-anchor="end">1.2</text><text x="19.3" y="275.06" text-anchor="end">1.3</text><text x="19.3" y="261.34" text-anchor="end">1.4</text><text x="19.3" y="247.63" text-anchor="end">1.5</text><text x="19.3" y="233.91" text-anchor="end">1.6</text><text x="19.3" y="220.2" text-anchor="end">1.7</text><text x="303.5" y="412.2">0.1</text><text x="303.5" y="394.75">0.2</text><text x="303.5" y="377.29">0.3</text><text x="303.5" y="359.84">0.4</text><text x="303.5" y="342.38">0.5</text><text x="303.5" y="324.93">0.6</text><text x="303.5" y="307.47">0.7</text><text x="303.5" y="290.02">0.8</text><text x="303.5" y="272.56">0.9</text><text x="303.5" y="255.11">1.0</text><text x="303.5" y="237.65">1.1</text><text x="303.5" y="220.2">1.2</text><text x="29.41" y="421.8" text-anchor="middle">1980</text><text x="68.56" y="421.8" text-anchor="middle">1985</text><text x="107.7" y="421.8" text-anchor="middle">1990</text><text x="146.84" y="421.8" text-anchor="middle">1995</text><text x="185.99" y="421.8" text-anchor="middle">2000</text><text x="225.13" y="421.8" text-anchor="middle">2005</text><text x="264.27" y="421.8" text-anchor="middle">2010</text></g>
<text class="s" font-size="9.9" transform="translate(9.3,312.5) rotate(-90)" text-anchor="middle">Wind Factor (WF)</text>
<text class="s" font-size="9.6" transform="translate(324.1,313.5) rotate(-90)" text-anchor="middle">AOD</text>
<text class="s" font-size="9.3" x="283.2" y="228.8" text-anchor="middle">SON</text>
<text class="ss" font-size="12.6" x="30.8" y="401.9">c</text>
<line x1="30.7" y1="227" x2="56.1" y2="227" stroke="#1f8a88" stroke-width="1.1"/>
<rect x="41.5" y="225.1" width="3.8" height="3.8" fill="#03807e"/>
<line x1="30.7" y1="242.7" x2="56.1" y2="242.7" stroke="#ff3a3a" stroke-width="1.1"/>
<circle cx="43.4" cy="242.7" r="2.1" fill="#ff2d2d"/>
<rect x="31.5" y="253.7" width="24.2" height="12.1" fill="#e0e0e0" stroke="#8e8e8e" stroke-width="0.7"/>
<text class="s" font-size="11.0" x="59.2" y="230.6">Total AOD (&#964;)</text>
<text class="s" font-size="11.0" x="59.2" y="246.1">Autochthonic Contribution (&#964;<tspan font-size="7" dy="3.7">a</tspan><tspan font-size="5.6" dx="-2.7" dy="-9.3">&#946;</tspan><tspan font-size="4.2" dy="2.4">o</tspan><tspan dy="3.2">)</tspan></text>
<text class="s" font-size="11.0" x="59.2" y="263.3">Wind Factor (WF=WF<tspan font-size="7.3" dy="4">N</tspan><tspan dy="-4">*WF</tspan><tspan font-size="7.3" dy="4">S</tspan><tspan dy="-4">)</tspan></text>
<g fill="#e0e0e0" stroke="#8e8e8e" stroke-width="0.7"><rect x="361.11" y="313.5" width="6.6" height="64"/><rect x="368.94" y="313.5" width="6.6" height="62"/><rect x="376.77" y="313.5" width="6.6" height="34"/><rect x="384.6" y="313.5" width="6.6" height="64.5"/><rect x="392.43" y="313.5" width="6.6" height="51.5"/><rect x="400.26" y="313.5" width="6.6" height="62.75"/><rect x="408.09" y="313.5" width="6.6" height="57.75"/><rect x="415.91" y="313.5" width="6.6" height="51.5"/><rect x="423.74" y="313.5" width="6.6" height="46.5"/><rect x="431.57" y="313.5" width="6.6" height="49.5"/><rect x="439.4" y="313.5" width="6.6" height="47.75"/><rect x="447.23" y="313.5" width="6.6" height="51"/><rect x="455.06" y="313.5" width="6.6" height="49"/><rect x="462.89" y="313.5" width="6.6" height="50.25"/><rect x="470.71" y="313.5" width="6.6" height="42.75"/><rect x="478.54" y="313.5" width="6.6" height="49.5"/><rect x="486.37" y="313.5" width="6.6" height="58.5"/><rect x="494.2" y="313.5" width="6.6" height="59"/><rect x="502.03" y="313.5" width="6.6" height="57"/><rect x="509.86" y="313.5" width="6.6" height="59"/><rect x="517.69" y="313.5" width="6.6" height="59"/><rect x="525.51" y="313.5" width="6.6" height="51"/><rect x="533.34" y="313.5" width="6.6" height="51"/><rect x="541.17" y="313.5" width="6.6" height="46.5"/><rect x="549" y="313.5" width="6.6" height="59"/><rect x="556.83" y="313.5" width="6.6" height="52.75"/><rect x="564.66" y="313.5" width="6.6" height="56"/><rect x="572.49" y="313.5" width="6.6" height="64"/><rect x="580.31" y="313.5" width="6.6" height="44.5"/><rect x="588.14" y="313.5" width="6.6" height="44"/><rect x="595.97" y="313.5" width="6.6" height="46"/><rect x="603.8" y="313.5" width="6.6" height="39.75"/><rect x="611.63" y="313.5" width="6.6" height="49"/><rect x="619.46" y="313.5" width="6.6" height="38"/><rect x="627.29" y="313.5" width="6.6" height="40.75"/></g>
<line x1="360.5" y1="313.5" x2="634.5" y2="313.5" stroke="#222" stroke-width="1"/>
<path d="M364.41,386.25 C367.02,375.7 369.63,365.16 372.24,358 C374.85,350.84 377.46,347.08 380.07,353.25 C382.68,359.42 385.29,375.52 387.9,379 C390.51,382.48 393.12,373.35 395.73,373.75 C398.34,374.15 400.95,384.09 403.56,382 C406.17,379.91 408.78,365.78 411.39,364.25 C414,362.72 416.6,373.78 419.21,377 C421.82,380.22 424.43,375.6 427.04,364 C429.65,352.4 432.26,333.81 434.87,333.75 C437.48,333.69 440.09,352.15 442.7,351.5 C445.31,350.85 447.92,331.1 450.53,325.75 C453.14,320.4 455.75,329.44 458.36,338.25 C460.97,347.06 463.58,355.64 466.19,362.5 C468.8,369.36 471.4,374.5 474.01,379 C476.62,383.5 479.23,387.35 481.84,385 C484.45,382.65 487.06,374.09 489.67,369.75 C492.28,365.41 494.89,365.28 497.5,368 C500.11,370.72 502.72,376.28 505.33,382.5 C507.94,388.72 510.55,395.6 513.16,384 C515.77,372.4 518.38,342.33 520.99,344.1 C523.6,345.87 526.2,379.5 528.81,379.5 C531.42,379.5 534.03,345.88 536.64,340.5 C539.25,335.12 541.86,357.99 544.47,364 C547.08,370.01 549.69,359.18 552.3,350.75 C554.91,342.32 557.52,336.3 560.13,332 C562.74,327.7 565.35,325.1 567.96,338.25 C570.57,351.4 573.18,380.28 575.79,381 C578.4,381.72 581,354.29 583.61,348.5 C586.22,342.71 588.83,358.57 591.44,358 C594.05,357.43 596.66,340.45 599.27,335 C601.88,329.55 604.49,335.64 607.1,341.75 C609.71,347.86 612.32,353.98 614.93,351.5 C617.54,349.02 620.15,337.93 622.76,334 C625.37,330.07 627.98,333.28 630.59,336.5" fill="none" stroke="#1f8a88" stroke-width="1.1"/>
<path d="M364.41,371.25 C367.02,355.1 369.63,338.94 372.24,337.5 C374.85,336.06 377.46,349.32 380.07,355.5 C382.68,361.68 385.29,360.78 387.9,360.5 C390.51,360.22 393.12,360.55 395.73,363 C398.34,365.45 400.95,370 403.56,365.75 C406.17,361.5 408.78,348.44 411.39,348.75 C414,349.06 416.6,362.74 419.21,367.5 C421.82,372.26 424.43,368.1 427.04,355.9 C429.65,343.7 432.26,323.45 434.87,321.75 C437.48,320.05 440.09,336.89 442.7,337 C445.31,337.11 447.92,320.5 450.53,316.25 C453.14,312 455.75,320.11 458.36,328.1 C460.97,336.09 463.58,343.97 466.19,352 C468.8,360.03 471.4,368.21 474.01,373.25 C476.62,378.29 479.23,380.19 481.84,377.6 C484.45,375.01 487.06,367.91 489.67,362 C492.28,356.09 494.89,351.35 497.5,353.9 C500.11,356.45 502.72,366.28 505.33,372.5 C507.94,378.72 510.55,381.33 513.16,365.6 C515.77,349.87 518.38,315.79 520.99,320.75 C523.6,325.71 526.2,369.7 528.81,368 C531.42,366.3 534.03,318.89 536.64,311.5 C539.25,304.11 541.86,336.73 544.47,342 C547.08,347.27 549.69,325.18 552.3,314.5 C554.91,303.82 557.52,304.53 560.13,299.5 C562.74,294.47 565.35,283.7 567.96,299.5 C570.57,315.3 573.18,357.69 575.79,362.5 C578.4,367.31 581,334.56 583.61,328 C586.22,321.44 588.83,341.07 591.44,340.25 C594.05,339.43 596.66,318.16 599.27,313.25 C601.88,308.34 604.49,319.77 607.1,325 C609.71,330.23 612.32,329.24 614.93,326.25 C617.54,323.26 620.15,318.25 622.76,313.75 C625.37,309.25 627.98,305.25 630.59,301.25" fill="none" stroke="#ff3a3a" stroke-width="1.1"/>
<g fill="#03807e"><rect x="362.51" y="384.35" width="3.8" height="3.8"/><rect x="370.34" y="356.1" width="3.8" height="3.8"/><rect x="378.17" y="351.35" width="3.8" height="3.8"/><rect x="386" y="377.1" width="3.8" height="3.8"/><rect x="393.83" y="371.85" width="3.8" height="3.8"/><rect x="401.66" y="380.1" width="3.8" height="3.8"/><rect x="409.49" y="362.35" width="3.8" height="3.8"/><rect x="417.31" y="375.1" width="3.8" height="3.8"/><rect x="425.14" y="362.1" width="3.8" height="3.8"/><rect x="432.97" y="331.85" width="3.8" height="3.8"/><rect x="440.8" y="349.6" width="3.8" height="3.8"/><rect x="448.63" y="323.85" width="3.8" height="3.8"/><rect x="456.46" y="336.35" width="3.8" height="3.8"/><rect x="464.29" y="360.6" width="3.8" height="3.8"/><rect x="472.11" y="377.1" width="3.8" height="3.8"/><rect x="479.94" y="383.1" width="3.8" height="3.8"/><rect x="487.77" y="367.85" width="3.8" height="3.8"/><rect x="495.6" y="366.1" width="3.8" height="3.8"/><rect x="503.43" y="380.6" width="3.8" height="3.8"/><rect x="511.26" y="382.1" width="3.8" height="3.8"/><rect x="519.09" y="342.2" width="3.8" height="3.8"/><rect x="526.91" y="377.6" width="3.8" height="3.8"/><rect x="534.74" y="338.6" width="3.8" height="3.8"/><rect x="542.57" y="362.1" width="3.8" height="3.8"/><rect x="550.4" y="348.85" width="3.8" height="3.8"/><rect x="558.23" y="330.1" width="3.8" height="3.8"/><rect x="566.06" y="336.35" width="3.8" height="3.8"/><rect x="573.89" y="379.1" width="3.8" height="3.8"/><rect x="581.71" y="346.6" width="3.8" height="3.8"/><rect x="589.54" y="356.1" width="3.8" height="3.8"/><rect x="597.37" y="333.1" width="3.8" height="3.8"/><rect x="605.2" y="339.85" width="3.8" height="3.8"/><rect x="613.03" y="349.6" width="3.8" height="3.8"/><rect x="620.86" y="332.1" width="3.8" height="3.8"/><rect x="628.69" y="334.6" width="3.8" height="3.8"/></g>
<g fill="#ff2d2d"><circle cx="364.41" cy="371.25" r="2.1"/><circle cx="372.24" cy="337.5" r="2.1"/><circle cx="380.07" cy="355.5" r="2.1"/><circle cx="387.9" cy="360.5" r="2.1"/><circle cx="395.73" cy="363" r="2.1"/><circle cx="403.56" cy="365.75" r="2.1"/><circle cx="411.39" cy="348.75" r="2.1"/><circle cx="419.21" cy="367.5" r="2.1"/><circle cx="427.04" cy="355.9" r="2.1"/><circle cx="434.87" cy="321.75" r="2.1"/><circle cx="442.7" cy="337" r="2.1"/><circle cx="450.53" cy="316.25" r="2.1"/><circle cx="458.36" cy="328.1" r="2.1"/><circle cx="466.19" cy="352" r="2.1"/><circle cx="474.01" cy="373.25" r="2.1"/><circle cx="481.84" cy="377.6" r="2.1"/><circle cx="489.67" cy="362" r="2.1"/><circle cx="497.5" cy="353.9" r="2.1"/><circle cx="505.33" cy="372.5" r="2.1"/><circle cx="513.16" cy="365.6" r="2.1"/><circle cx="520.99" cy="320.75" r="2.1"/><circle cx="528.81" cy="368" r="2.1"/><circle cx="536.64" cy="311.5" r="2.1"/><circle cx="544.47" cy="342" r="2.1"/><circle cx="552.3" cy="314.5" r="2.1"/><circle cx="560.13" cy="299.5" r="2.1"/><circle cx="567.96" cy="299.5" r="2.1"/><circle cx="575.79" cy="362.5" r="2.1"/><circle cx="583.61" cy="328" r="2.1"/><circle cx="591.44" cy="340.25" r="2.1"/><circle cx="599.27" cy="313.25" r="2.1"/><circle cx="607.1" cy="325" r="2.1"/><circle cx="614.93" cy="326.25" r="2.1"/><circle cx="622.76" cy="313.75" r="2.1"/><circle cx="630.59" cy="301.25" r="2.1"/></g>
<rect x="360.5" y="217.5" width="274" height="192" fill="none" stroke="#303030" stroke-width="1.1"/>
<path d="M360.5,409.5H356.3M360.5,402.64H358.5M360.5,395.79H356.3M360.5,388.93H358.5M360.5,382.07H356.3M360.5,375.21H358.5M360.5,368.36H356.3M360.5,361.5H358.5M360.5,354.64H356.3M360.5,347.79H358.5M360.5,340.93H356.3M360.5,334.07H358.5M360.5,327.21H356.3M360.5,320.36H358.5M360.5,313.5H356.3M360.5,306.64H358.5M360.5,299.79H356.3M360.5,292.93H358.5M360.5,286.07H356.3M360.5,279.21H358.5M360.5,272.36H356.3M360.5,265.5H358.5M360.5,258.64H356.3M360.5,251.79H358.5M360.5,244.93H356.3M360.5,238.07H358.5M360.5,231.21H356.3M360.5,224.36H358.5M360.5,217.5H356.3M634.5,409.5H631.3M634.5,400.77H632.5M634.5,392.05H631.3M634.5,383.32H632.5M634.5,374.59H631.3M634.5,365.86H632.5M634.5,357.14H631.3M634.5,348.41H632.5M634.5,339.68H631.3M634.5,330.95H632.5M634.5,322.23H631.3M634.5,313.5H632.5M634.5,304.77H631.3M634.5,296.05H632.5M634.5,287.32H631.3M634.5,278.59H632.5M634.5,269.86H631.3M634.5,261.14H632.5M634.5,252.41H631.3M634.5,243.68H632.5M634.5,234.95H631.3M634.5,226.23H632.5M634.5,217.5H631.3M364.41,409.5V413.1M383.99,409.5V411.4M403.56,409.5V413.1M423.13,409.5V411.4M442.7,409.5V413.1M462.27,409.5V411.4M481.84,409.5V413.1M501.41,409.5V411.4M520.99,409.5V413.1M540.56,409.5V411.4M560.13,409.5V413.1M579.7,409.5V411.4M599.27,409.5V413.1" stroke="#303030" stroke-width="1" fill="none"/>
<g class="s" font-size="7.6"><text x="354.3" y="412.2" text-anchor="end">0.3</text><text x="354.3" y="398.49" text-anchor="end">0.4</text><text x="354.3" y="384.77" text-anchor="end">0.5</text><text x="354.3" y="371.06" text-anchor="end">0.6</text><text x="354.3" y="357.34" text-anchor="end">0.7</text><text x="354.3" y="343.63" text-anchor="end">0.8</text><text x="354.3" y="329.91" text-anchor="end">0.9</text><text x="354.3" y="316.2" text-anchor="end">1.0</text><text x="354.3" y="302.49" text-anchor="end">1.1</text><text x="354.3" y="288.77" text-anchor="end">1.2</text><text x="354.3" y="275.06" text-anchor="end">1.3</text><text x="354.3" y="261.34" text-anchor="end">1.4</text><text x="354.3" y="247.63" text-anchor="end">1.5</text><text x="354.3" y="233.91" text-anchor="end">1.6</text><text x="354.3" y="220.2" text-anchor="end">1.7</text><text x="638.5" y="412.2">0.1</text><text x="638.5" y="394.75">0.2</text><text x="638.5" y="377.29">0.3</text><text x="638.5" y="359.84">0.4</text><text x="638.5" y="342.38">0.5</text><text x="638.5" y="324.93">0.6</text><text x="638.5" y="307.47">0.7</text><text x="638.5" y="290.02">0.8</text><text x="638.5" y="272.56">0.9</text><text x="638.5" y="255.11">1.0</text><text x="638.5" y="237.65">1.1</text><text x="638.5" y="220.2">1.2</text><text x="364.41" y="421.8" text-anchor="middle">1980</text><text x="403.56" y="421.8" text-anchor="middle">1985</text><text x="442.7" y="421.8" text-anchor="middle">1990</text><text x="481.84" y="421.8" text-anchor="middle">1995</text><text x="520.99" y="421.8" text-anchor="middle">2000</text><text x="560.13" y="421.8" text-anchor="middle">2005</text><text x="599.27" y="421.8" text-anchor="middle">2010</text></g>
<text class="s" font-size="9.9" transform="translate(344.3,312.5) rotate(-90)" text-anchor="middle">Wind Factor (WF)</text>
<text class="s" font-size="9.6" transform="translate(659.1,313.5) rotate(-90)" text-anchor="middle">AOD</text>
<text class="s" font-size="9.3" x="618.2" y="228.8" text-anchor="middle">DJF</text>
<text class="ss" font-size="12.6" x="365.8" y="401.9">d</text>
<line x1="363.2" y1="227" x2="388.6" y2="227" stroke="#1f8a88" stroke-width="1.1"/>
<rect x="374" y="225.1" width="3.8" height="3.8" fill="#03807e"/>
<line x1="363.2" y1="242.7" x2="388.6" y2="242.7" stroke="#ff3a3a" stroke-width="1.1"/>
<circle cx="375.9" cy="242.7" r="2.1" fill="#ff2d2d"/>
<rect x="364" y="253.7" width="24.2" height="12.1" fill="#e0e0e0" stroke="#8e8e8e" stroke-width="0.7"/>
<text class="s" font-size="11.0" x="391.7" y="230.6">Total AOD (&#964;)</text>
<text class="s" font-size="11.0" x="391.7" y="246.1">Autochthonic Contribution (&#964;<tspan font-size="7" dy="3.7">a</tspan><tspan font-size="5.6" dx="-2.7" dy="-9.3">&#946;</tspan><tspan font-size="4.2" dy="2.4">o</tspan><tspan dy="3.2">)</tspan></text>
<text class="s" font-size="11.0" x="391.7" y="263.3">Wind Factor (WF=WF<tspan font-size="7.3" dy="4">N</tspan><tspan dy="-4">*WF</tspan><tspan font-size="7.3" dy="4">S</tspan><tspan dy="-4">)</tspan></text>
</svg></body></html>
